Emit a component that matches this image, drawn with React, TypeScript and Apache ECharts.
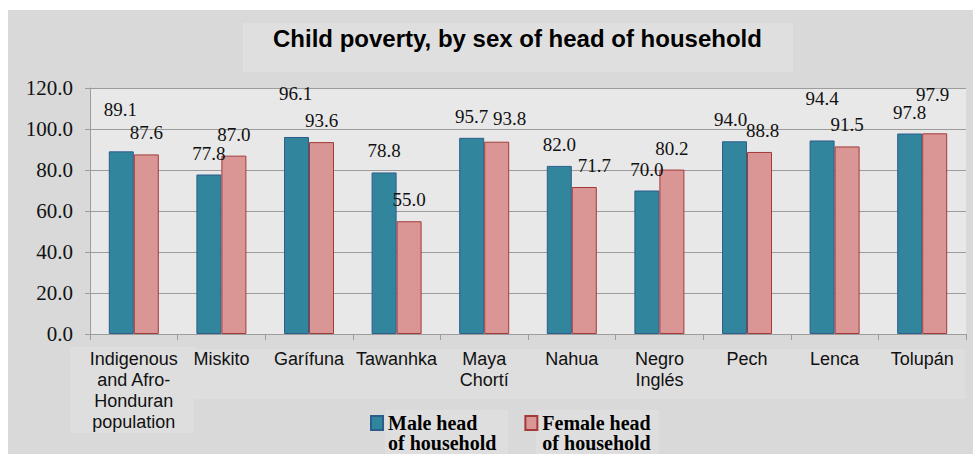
import React, { useEffect, useRef } from "react";
import * as echarts from "echarts";

const categories = [
  "Indigenous\nand Afro-\nHonduran\npopulation",
  "Miskito",
  "Garífuna",
  "Tawanhka",
  "Maya\nChortí",
  "Nahua",
  "Negro\nInglés",
  "Pech",
  "Lenca",
  "Tolupán",
];
const maleValues = [89.1, 77.8, 96.1, 78.8, 95.7, 82.0, 70.0, 94.0, 94.4, 97.8];
const femaleValues = [87.6, 87.0, 93.6, 55.0, 93.8, 71.7, 80.2, 88.8, 91.5, 97.9];
const seriesNames = ["Male head\nof household", "Female head\nof household"];
const titleText = "Child poverty, by sex of head of household";

// label nudges (style only)
const maleLabelOffsets = [[-1, -20], [0, 0], [-1, -22], [0, 0], [0, 0], [0, 0], [0, 0], [-4, 0], [0, -20], [0, 0]];
const femaleLabelOffsets = [[0, 0], [0, 0], [0, 0], [0, 0], [13, -2], [10, 0], [0, 0], [3, 0], [0, 0], [-2, -17]];

const boxes = [
  { left: 8, top: 10, width: 965, height: 444, bg: "#d9d9d9" },
  { left: 243, top: 23, width: 550, height: 49, bg: "#dfdfdf" },
  { left: 70, top: 347, width: 124, height: 86, bg: "#dedede" },
  { left: 194, top: 349, width: 771, height: 50, bg: "#dedede" },
  { left: 385, top: 410, width: 123, height: 44, bg: "#dedede" },
  { left: 536, top: 410, width: 123, height: 44, bg: "#dedede" },
];

export default function App() {
  const ref = useRef<HTMLDivElement>(null);
  useEffect(() => {
    if (!ref.current) return;
    const chart = echarts.init(ref.current, undefined, { renderer: "svg" });
    const labelBase = {
      show: true,
      position: "top",
      distance: 12,
      fontFamily: "Liberation Serif",
      fontSize: 19,
      lineHeight: 19,
      color: "#111",
      formatter: (p: any) => Number(p.value).toFixed(1),
    };
    chart.setOption({
      animation: false,
      backgroundColor: "transparent",
      title: {
        text: titleText,
        left: 273,
        top: 26,
        padding: 0,
        textStyle: { fontFamily: "Liberation Sans", fontWeight: "bold", fontSize: 24, color: "#000" },
      },
      legend: {
        left: 370,
        top: 393,
        padding: 0,
        itemWidth: 12,
        itemHeight: 14,
        itemGap: 28,
        icon: "rect",
        formatter: (name: string) => "\n" + name,
        textStyle: {
          fontFamily: "Liberation Serif",
          fontWeight: "bold",
          fontSize: 20,
          lineHeight: 20,
          color: "#000",
        },
        data: seriesNames,
      },
      grid: {
        left: 90,
        top: 88,
        width: 876,
        height: 246,
        show: true,
        backgroundColor: "#e8e8e8",
        borderWidth: 0,
      },
      xAxis: {
        type: "category",
        data: categories,
        axisLine: { lineStyle: { color: "#9c9c9c", width: 1 } },
        axisTick: { show: true, length: 6, lineStyle: { color: "#9c9c9c" } },
        axisLabel: {
          interval: 0,
          margin: 14,
          fontFamily: "Liberation Sans",
          fontSize: 18,
          lineHeight: 21,
          color: "#111",
        },
      },
      yAxis: {
        type: "value",
        min: 0,
        max: 120,
        interval: 20,
        axisLine: { show: true, lineStyle: { color: "#9c9c9c", width: 1 } },
        axisTick: { show: true, length: 5, lineStyle: { color: "#9c9c9c" } },
        splitLine: { show: true, lineStyle: { color: "#9c9c9c", width: 1 } },
        axisLabel: {
          margin: 17,
          fontFamily: "Liberation Serif",
          fontSize: 21,
          color: "#111",
          formatter: (v: number) => v.toFixed(1),
        },
      },
      series: [
        {
          name: seriesNames[0],
          type: "bar",
          barWidth: 25,
          barGap: "0%",
          itemStyle: { color: "#31859c", borderColor: "#2d5d8c", borderWidth: 1 },
          label: labelBase,
          data: maleValues.map((v, i) => ({ value: v, label: { offset: maleLabelOffsets[i] } })),
        },
        {
          name: seriesNames[1],
          type: "bar",
          barWidth: 25,
          barGap: "0%",
          itemStyle: { color: "#d99694", borderColor: "#a33a3a", borderWidth: 1 },
          label: labelBase,
          data: femaleValues.map((v, i) => ({ value: v, label: { offset: femaleLabelOffsets[i] } })),
        },
      ],
    });
    return () => chart.dispose();
  }, []);
  return (
    <div style={{ position: "absolute", left: 0, top: 0, width: 976, height: 454, background: "#fff", overflow: "hidden" }}>
      {boxes.map((b, i) => (
        <div
          key={i}
          style={{ position: "absolute", left: b.left, top: b.top, width: b.width, height: b.height, background: b.bg }}
        />
      ))}
      <div ref={ref} style={{ position: "absolute", left: 0, top: 0, width: 976, height: 454 }} />
    </div>
  );
}
